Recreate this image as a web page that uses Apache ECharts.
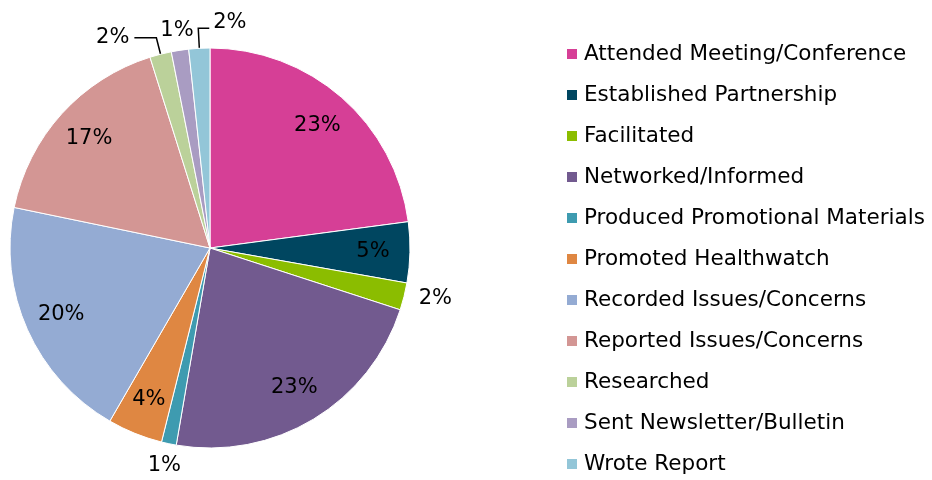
<!DOCTYPE html>
<html>
<head>
<meta charset="utf-8">
<script src="https://cdn.jsdelivr.net/npm/echarts@6/dist/echarts.min.js"></script>
<style>
  html, body {margin: 0; padding: 0; background: #fff;}
  #main {width: 932px; height: 480px;}
</style>
</head>
<body>
<div id="main"></div>
<script>
  var categories = ['Attended Meeting/Conference', 'Established Partnership', 'Facilitated',
    'Networked/Informed', 'Produced Promotional Materials', 'Promoted Healthwatch',
    'Recorded Issues/Concerns', 'Reported Issues/Concerns', 'Researched',
    'Sent Newsletter/Bulletin', 'Wrote Report'];
  var values = [22.9, 4.9, 2.2, 22.7, 1.2, 4.45, 19.9, 16.9, 1.75, 1.4, 1.7];
  var colors = ['#d63f96', '#004660', '#8bbd00', '#725a8f', '#3e9bb0', '#df8742',
    '#94abd3', '#d39694', '#bbd19a', '#a99cc2', '#93c6d8'];
  // small slices get their label outside the pie
  var outside = [false, false, true, false, true, false, false, false, true, true, true];
  var withLine = [false, false, false, false, false, false, false, false, true, false, true];
  // per slice outer label line lengths [length, length2]
  var lineLen = {2: [10, 0], 4: [22, 0], 8: [17, 22], 9: [20, 0], 10: [20, 11]};
  var centred = {4: true, 9: true};
  var flipRight = {10: true};

  var font = 'DejaVu Sans';
  var chart = echarts.init(document.getElementById('main'));

  var mainData = categories.map(function (name, i) {
    var len = lineLen[i] || [14, 10];
    return {
      name: name, value: values[i],
      itemStyle: {color: colors[i]},
      label: {show: outside[i]},
      labelLine: {show: withLine[i], length: len[0], length2: len[1]}
    };
  });
  var ringData = categories.map(function (name, i) {
    return {name: name, value: values[i], label: {show: !outside[i]}};
  });

  chart.setOption({
    legend: {
      orient: 'vertical', left: 565, top: 43, padding: 0,
      itemWidth: 12, itemHeight: 12, itemGap: 19, icon: 'rect',
      textStyle: {fontFamily: font, fontSize: 21.5, color: '#000', lineHeight: 22, padding: [0, 0, 0, 1]},
      data: categories
    },
    series: [{
      type: 'pie',
      center: [210, 248], radius: 200,
      startAngle: 90, clockwise: true,
      avoidLabelOverlap: false,
      percentPrecision: 0,
      itemStyle: {borderColor: '#fff', borderWidth: 1},
      label: {position: 'outside', formatter: '{d}%', fontFamily: font, fontSize: 21, color: '#000'},
      labelLine: {lineStyle: {color: '#000', width: 1.5}},
      labelLayout: function (p) {
        var pts = p.labelLinePoints;
        if (!pts) return {};
        if (centred[p.dataIndex]) {
          return {x: pts[2][0], align: 'center'};
        }
        if (flipRight[p.dataIndex]) {
          var len2 = Math.abs(pts[2][0] - pts[1][0]);
          var end = [pts[1][0] + len2, pts[1][1]];
          return {x: end[0] + 4, y: end[1] - 6, align: 'left',
            labelLinePoints: [pts[0], pts[1], end]};
        }
        return {};
      },
      emphasis: {disabled: true},
      data: mainData
    }, {
      // transparent ring that only carries the inner labels further out
      type: 'pie',
      center: [210, 248], radius: [120, 200],
      startAngle: 90, clockwise: true,
      silent: true,
      percentPrecision: 0,
      itemStyle: {color: 'rgba(0,0,0,0)'},
      label: {position: 'inside', formatter: '{d}%', fontFamily: font, fontSize: 21, color: '#000'},
      labelLine: {show: false},
      emphasis: {disabled: true},
      data: ringData
    }]
  });
</script>
</body>
</html>
